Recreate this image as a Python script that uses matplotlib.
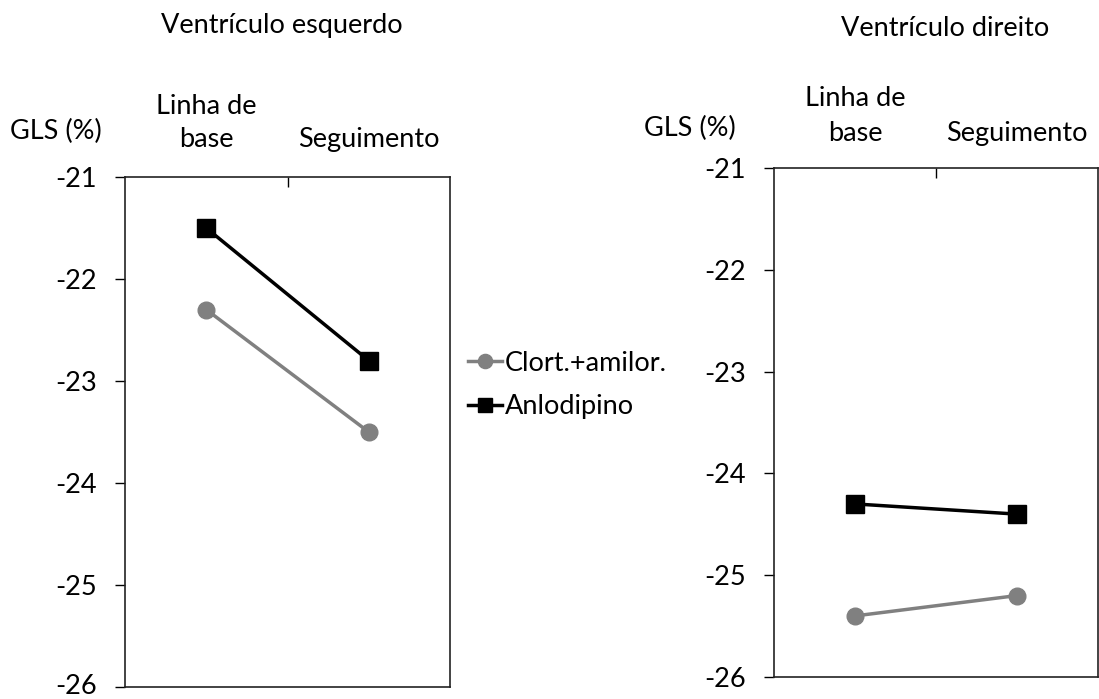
import matplotlib.pyplot as plt
from matplotlib.ticker import FixedLocator
from matplotlib.transforms import ScaledTranslation

plt.rcParams['font.family'] = ['Lato', 'DejaVu Sans']

categorias = ['Linha de\nbase', 'Seguimento']
series = ['Clort.+amilor.', 'Anlodipino']
esq_clort = [-22.3, -23.5]
esq_anlod = [-21.5, -22.8]
dir_clort = [-25.4, -25.2]
dir_anlod = [-24.3, -24.4]
y_ticks = [-21, -22, -23, -24, -25, -26]

fs = 19.5

fig = plt.figure(figsize=(10.99, 6.99), dpi=100)
ax1 = fig.add_axes([125 / 1099, 1 - 687 / 699, 325 / 1099, 510 / 699])
ax2 = fig.add_axes([774 / 1099, 1 - 677 / 699, 324 / 1099, 509 / 699])


def painel(ax, clort, anlod, pad_top, pad_y, lsp):
    x = list(range(len(categorias)))
    l1, = ax.plot(x, clort, color='#808080', lw=2.5, marker='o', ms=12,
                  label=series[0])
    l2, = ax.plot(x, anlod, color='black', lw=2.5, marker='s', ms=12.5,
                  label=series[1])
    ax.set_xlim(-0.5, 1.5)
    ax.set_ylim(-26, -21)
    ax.set_yticks(y_ticks)
    ax.set_yticklabels([str(v) for v in y_ticks])
    ax.tick_params(axis='y', direction='out', length=7, width=1, pad=pad_y,
                   labelsize=fs)
    ax.xaxis.tick_top()
    ax.set_xticks(x)
    ax.set_xticklabels(categorias, linespacing=lsp)
    ax.tick_params(axis='x', which='major', length=0, pad=pad_top, labelsize=fs)
    ax.xaxis.set_minor_locator(FixedLocator([0.5]))
    ax.tick_params(axis='x', which='minor', direction='in', length=7, width=1,
                   top=True, bottom=False)
    for s in ax.spines.values():
        s.set_linewidth(1.2)
        s.set_color('#222222')
    return l1, l2


h = painel(ax1, esq_clort, esq_anlod, 18, 13, 1.4)
painel(ax2, dir_clort, dir_anlod, 16, 13, 1.5)

# o rotulo -26 do painel esquerdo fica colado na borda da figura
lbl = ax1.get_yticklabels()[-1]
lbl.set_transform(lbl.get_transform() + ScaledTranslation(0, 2 / 72, fig.dpi_scale_trans))

fig.text(282 / 1099, 1 - 25 / 699, 'Ventrículo esquerdo', ha='center',
         va='center', fontsize=fs)
fig.text(945 / 1099, 1 - 28 / 699, 'Ventrículo direito', ha='center',
         va='center', fontsize=fs)
fig.text(56 / 1099, 1 - 131 / 699, 'GLS (%)', ha='center', va='center',
         fontsize=fs)
fig.text(690 / 1099, 1 - 128 / 699, 'GLS (%)', ha='center', va='center',
         fontsize=fs)

fig.legend(h, series, loc='center left', bbox_to_anchor=(468 / 1099, 1 - 385 / 699),
           frameon=False, fontsize=fs, handlelength=1.25, handletextpad=0.1,
           labelspacing=0.7, markerscale=0.85, borderpad=0, borderaxespad=0)

fig.savefig('out.png', dpi=100)
